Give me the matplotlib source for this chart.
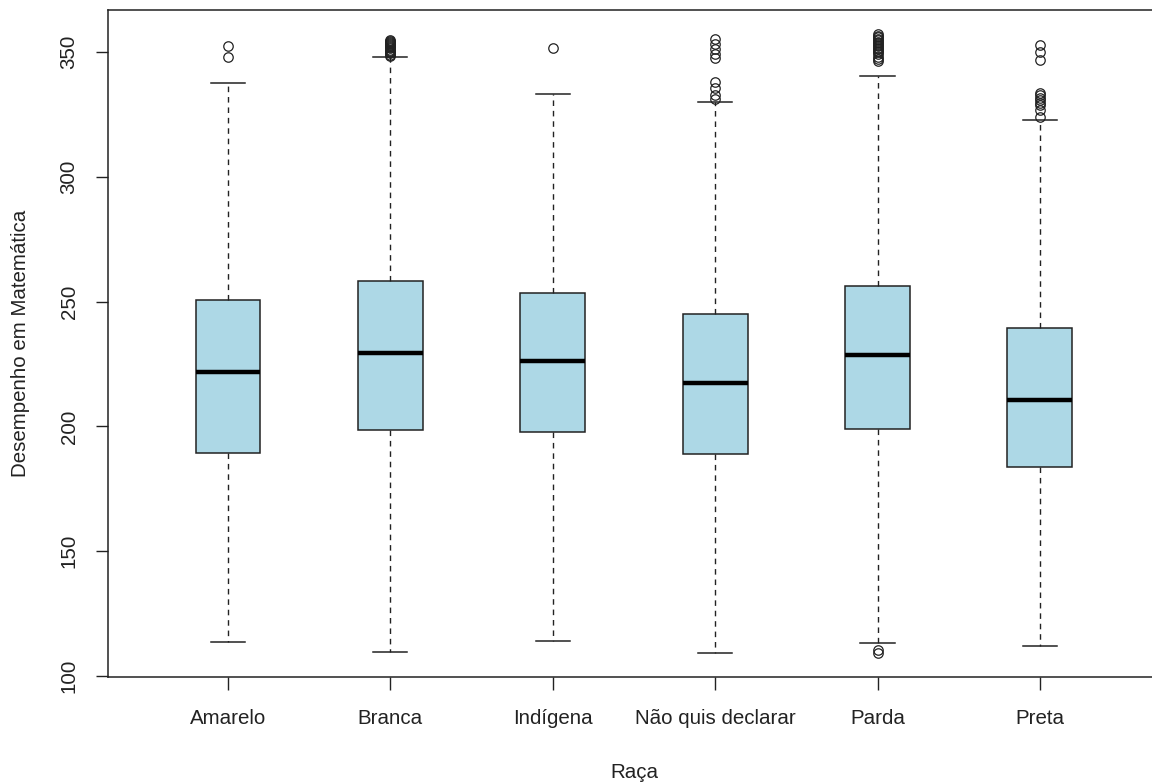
import matplotlib
matplotlib.use('Agg')
import matplotlib.pyplot as plt

plt.rcParams['font.family'] = ['Liberation Sans', 'DejaVu Sans']

racas = ['Amarelo', 'Branca', 'Indígena', 'Não quis declarar', 'Parda', 'Preta']

# resumo de cinco números por grupo (desempenho em matemática)
lim_inf = [113.7, 109.6, 114.0, 109.2, 113.2, 112.1]
q1 = [189.3, 198.6, 197.8, 188.9, 199.0, 183.7]
mediana = [221.8, 229.4, 226.2, 217.4, 228.6, 210.6]
q3 = [250.6, 258.3, 253.4, 245.0, 256.3, 239.4]
lim_sup = [337.7, 348.0, 333.2, 329.9, 340.4, 322.8]

outliers = [
    [352.5, 347.9],
    [355.0, 354.6, 354.2, 353.8, 353.4, 353.0, 352.5, 352.0, 351.5,
     351.0, 350.5, 350.0, 349.5, 349.0, 348.6],
    [351.6],
    [355.1, 353.1, 351.2, 349.4, 347.5, 337.8, 335.4, 332.6, 331.0],
    [357.2, 356.6, 356.0, 355.4, 354.8, 354.2, 353.6, 353.0, 352.4,
     351.8, 351.2, 350.6, 350.0, 349.4, 348.0, 347.2, 346.4, 110.6, 109.2],
    [353.0, 350.0, 346.8, 333.6, 332.6, 331.6, 330.6, 329.6, 328.8,
     326.6, 324.0],
]

stats = []
for i in range(len(racas)):
    stats.append(dict(label=racas[i], whislo=lim_inf[i], q1=q1[i], med=mediana[i],
                      q3=q3[i], whishi=lim_sup[i], fliers=outliers[i]))

fig = plt.figure(figsize=(11.52, 7.83), dpi=100)
ax = fig.add_axes([0.0936, 0.135, 0.9134, 0.8526])

ax.bxp(stats, positions=range(1, 7), widths=0.40, patch_artist=True,
       boxprops=dict(facecolor='#ADD8E6', edgecolor='#222222', linewidth=1.1),
       medianprops=dict(color='black', linewidth=3.2, solid_capstyle='butt'),
       whiskerprops=dict(color='#222222', linewidth=1.0, linestyle=(0, (4, 3.5))),
       capprops=dict(color='#222222', linewidth=1.1),
       capwidths=0.21,
       flierprops=dict(marker='o', markersize=6.8, markerfacecolor='none',
                       markeredgecolor='#222222', markeredgewidth=0.9))

ax.set_xlim(0.26, 6.74)
ax.set_ylim(99.48, 366.95)
ax.set_yticks([100, 150, 200, 250, 300, 350])
ax.set_xticks(range(1, 7))
ax.set_xticklabels(racas)

for s in ax.spines.values():
    s.set_linewidth(1.1)
    s.set_color('#222222')

ax.tick_params(axis='both', direction='out', length=9, width=1.0, color='#222222',
               labelsize=14.8, labelcolor='#222222')
ax.tick_params(axis='x', pad=14)
ax.tick_params(axis='y', pad=12)
for lab in ax.get_yticklabels():
    lab.set_rotation(90)
    lab.set_va('center')

ax.set_xlabel('Raça', fontsize=14.8, color='#222222', labelpad=25)
ax.set_ylabel('Desempenho em Matemática', fontsize=14.8, color='#222222', labelpad=21)

fig.savefig('out.png', dpi=100)
